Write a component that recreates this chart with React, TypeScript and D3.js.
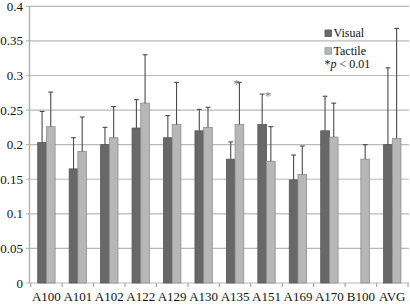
import React from "react";
import * as d3 from "d3";

// conditions along the x axis
const categories = ["A100", "A101", "A102", "A122", "A129", "A130", "A135", "A151", "A169", "A170", "B100", "AVG"];
const seriesNames = ["Visual", "Tactile"];

// means (null = no bar) and the upper error of each bar
const visualMeans = [0.203, 0.165, 0.2, 0.224, 0.21, 0.22, 0.179, 0.229, 0.149, 0.22, null, 0.2];
const visualErrors = [0.045, 0.045, 0.025, 0.041, 0.032, 0.031, 0.025, 0.044, 0.036, 0.05, null, 0.111];
const tactileMeans = [0.226, 0.19, 0.21, 0.26, 0.229, 0.225, 0.229, 0.176, 0.157, 0.211, 0.179, 0.209];
const tactileErrors = [0.05, 0.05, 0.045, 0.07, 0.061, 0.029, 0.061, 0.05, 0.041, 0.049, 0.021, 0.159];

// bars marked with an asterisk (p < 0.01)
const significant = [
  { category: "A135", series: "Tactile" },
  { category: "A151", series: "Visual" },
];

const yTicks = [0, 0.05, 0.1, 0.15, 0.2, 0.25, 0.3, 0.35, 0.4];
const yTickLabels = ["0", "0.05", "0.1", "0.15", "0.2", "0.25", "0.3", "0.35", "0.4"];

const W = 410;
const H = 307;
const FONT = '"Times New Roman", Times, "Liberation Serif", Tinos, "Nimbus Roman", "Noto Serif", "DejaVu Serif", serif';
const colors: Record<string, string> = { Visual: "#686868", Tactile: "#b7b7b7" };
const strokes: Record<string, string> = { Visual: "#575757", Tactile: "#8e8e8e" };

export default function App() {
  const x0 = d3.scaleBand<string>().domain(categories).range([30.7, 408]).padding(0);
  const x1 = d3.scaleBand<string>().domain(seriesNames).range([0, x0.bandwidth()]).paddingInner(0).paddingOuter(0.81);
  const y = d3.scaleLinear().domain([0, 0.4]).range([283, 6.3]);

  const rows = categories.map((c, i) => ({
    category: c,
    values: [
      { series: "Visual", mean: visualMeans[i], err: visualErrors[i] },
      { series: "Tactile", mean: tactileMeans[i], err: tactileErrors[i] },
    ],
  }));

  const boundaries = categories.map((c) => x0(c) as number).concat([x0.range()[1]]);
  const txt = { fontFamily: FONT };

  return (
    <svg width={W} height={H} style={{ position: "absolute", left: 0, top: 0, fontFamily: FONT }}>
      <rect width={W} height={H} fill="#fff" />
      {/* gridlines and y labels */}
      {yTicks.map((t, i) => (
        <g key={"yt" + i}>
          <line x1={26} x2={409} y1={y(t)} y2={y(t)} stroke="#b9b9b9" strokeWidth={1.2} />
          <text x={23} y={y(t)} dy="0.35em" textAnchor="end" fontSize={13} fill="#111" style={txt}>
            {yTickLabels[i]}
          </text>
        </g>
      ))}
      {/* y axis */}
      <line x1={29.5} x2={29.5} y1={y(0.4)} y2={y(0)} stroke="#b0b0b0" strokeWidth={1.4} />
      {/* x axis ticks */}
      {boundaries.map((b, i) => (
        <line key={"xb" + i} x1={b} x2={b} y1={y(0)} y2={y(0) + 4} stroke="#a8a8a8" strokeWidth={1.2} />
      ))}
      {/* bars */}
      {rows.map((r) => (
        <g key={r.category} transform={`translate(${x0(r.category)},0)`}>
          {r.values.map((v) =>
            v.mean == null ? null : (
              <rect
                key={v.series}
                x={x1(v.series)}
                y={y(v.mean)}
                width={x1.bandwidth()}
                height={y(0) - y(v.mean)}
                fill={colors[v.series]}
                stroke={strokes[v.series]}
                strokeWidth={0.8}
              />
            )
          )}
        </g>
      ))}
      {/* error bars */}
      {rows.map((r) => (
        <g key={"e" + r.category} transform={`translate(${x0(r.category)},0)`}>
          {r.values.map((v) => {
            if (v.mean == null || v.err == null) return null;
            const cx = (x1(v.series) as number) + x1.bandwidth() / 2;
            const top = y(v.mean + v.err);
            return (
              <g key={v.series} stroke="#4a4a4a" strokeWidth={1.1}>
                <line x1={cx} x2={cx} y1={y(v.mean)} y2={top} />
                <line x1={cx - 2.4} x2={cx + 2.4} y1={top} y2={top} />
              </g>
            );
          })}
        </g>
      ))}
      {/* significance asterisks */}
      {significant.map((s) => {
        const i = categories.indexOf(s.category);
        const mean = s.series === "Visual" ? visualMeans[i] : tactileMeans[i];
        const err = s.series === "Visual" ? visualErrors[i] : tactileErrors[i];
        const cx = (x0(s.category) as number) + x0.bandwidth() / 2 + 1.5;
        return (
          <text key={"s" + s.category} x={cx} y={y((mean as number) + (err as number)) + 6} textAnchor="middle" fontSize={13} fill="#777" style={txt}>
            *
          </text>
        );
      })}
      {/* x labels */}
      {categories.map((c) => (
        <text key={"xl" + c} x={(x0(c) as number) + x0.bandwidth() / 2} y={301} textAnchor="middle" fontSize={13} fill="#111" style={txt}>
          {c}
        </text>
      ))}
      {/* legend */}
      {seriesNames.map((s, i) => (
        <g key={"lg" + s} transform={`translate(325,${30 + i * 17.7})`}>
          <rect x={0} y={0} width={6.5} height={6.5} fill={colors[s]} stroke={strokes[s]} strokeWidth={0.8} />
          <text x={8.5} y={6.8} fontSize={12} fill="#111" style={txt}>
            {s}
          </text>
        </g>
      ))}
      <text x={324.5} y={67.7} fontSize={12} fill="#111" style={txt}>
        *<tspan fontStyle="italic">p</tspan> {"< 0.01"}
      </text>
    </svg>
  );
}
